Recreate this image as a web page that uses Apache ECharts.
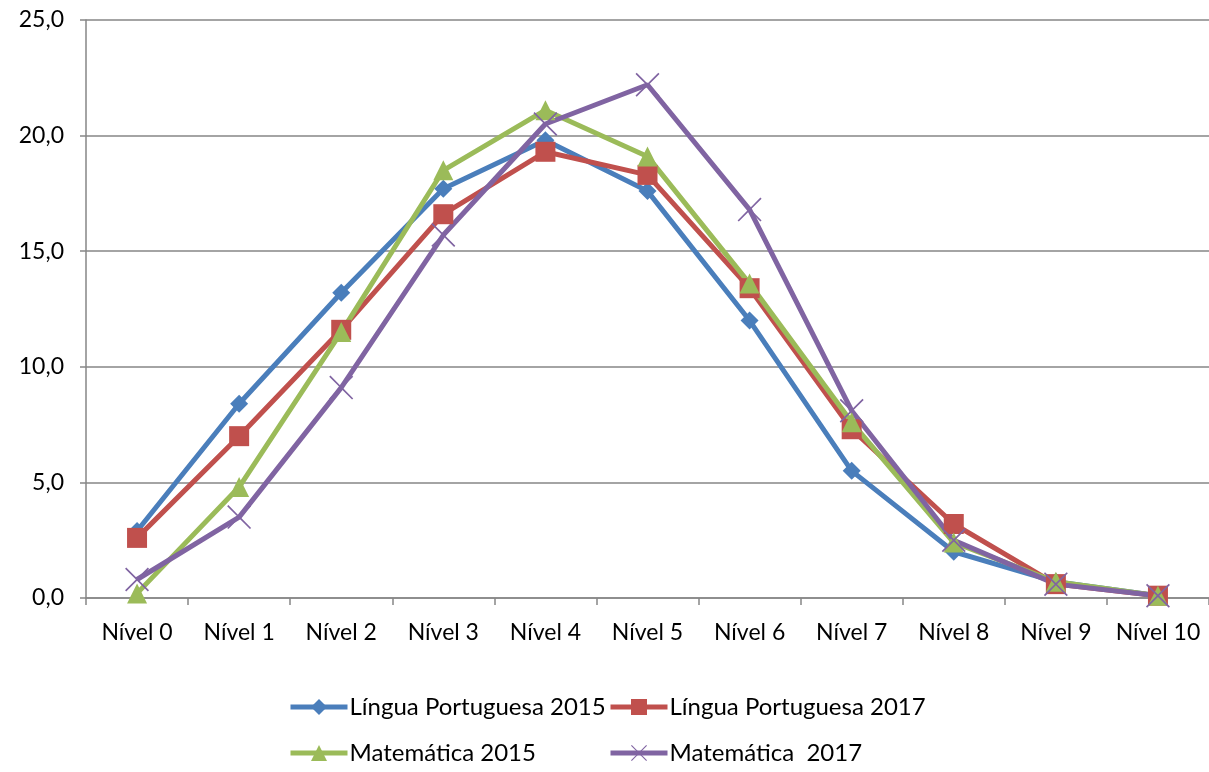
<!DOCTYPE html>
<html>
<head>
<meta charset="utf-8">
<script src="https://cdn.jsdelivr.net/npm/echarts@6/dist/echarts.min.js"></script>
<style>
  html, body { margin: 0; padding: 0; background: #fff; }
  #chart { width: 1209px; height: 772px; }
</style>
</head>
<body>
<div id="chart"></div>
<script>
// categorias do eixo x
var niveis = ["Nível 0", "Nível 1", "Nível 2", "Nível 3", "Nível 4", "Nível 5",
  "Nível 6", "Nível 7", "Nível 8", "Nível 9", "Nível 10"];

// percentuais por nível
var lp2015 = [2.9, 8.4, 13.2, 17.7, 19.8, 17.6, 12.0, 5.5, 2.0, 0.7, 0.1];
var lp2017 = [2.6, 7.0, 11.6, 16.6, 19.3, 18.3, 13.4, 7.3, 3.2, 0.6, 0.1];
var mat2015 = [0.2, 4.8, 11.5, 18.5, 21.1, 19.1, 13.6, 7.6, 2.4, 0.7, 0.1];
var mat2017 = [0.8, 3.5, 9.1, 15.7, 20.5, 22.2, 16.8, 8.1, 2.5, 0.6, 0.1];

var fonte = "Lato, 'Open Sans', sans-serif";
var cinza = "#868686";
var xis = "path://M0,1 L1,0 L10,9 L19,0 L20,1 L11,10 L20,19 L19,20 L10,11 L1,20 L0,19 L9,10 Z";

function serie(nome, dados, cor, simbolo, tam) {
  return {
    name: nome,
    type: "line",
    data: dados,
    symbol: simbolo,
    symbolSize: tam,
    showAllSymbol: true,
    lineStyle: { color: cor, width: 5 },
    itemStyle: { color: cor },
    emphasis: { disabled: true },
    animation: false
  };
}

// uma legenda por item, para alinhar em duas colunas
function legenda(nome, x, y) {
  return {
    data: [nome],
    left: x,
    top: y,
    itemWidth: 57,
    itemHeight: 20,
    lineStyle: { width: 5 },
    textStyle: { fontFamily: fonte, fontSize: 24, color: "#000", padding: [0, 0, 0, -3] }
  };
}

var chart = echarts.init(document.getElementById("chart"));
chart.setOption({
  animation: false,
  textStyle: { fontFamily: fonte, color: "#000" },
  grid: { left: 86, top: 20, right: -9, bottom: 174, containLabel: false },
  legend: [
    legenda("Língua Portuguesa 2015", 283, 690),
    legenda("Língua Portuguesa 2017", 603, 690),
    legenda("Matemática 2015", 283, 736),
    legenda("Matemática  2017", 603, 736)
  ],
  xAxis: {
    type: "category",
    data: niveis,
    boundaryGap: true,
    axisLine: { lineStyle: { color: cinza, width: 1.5 } },
    axisTick: { show: true, length: 7, lineStyle: { color: cinza, width: 1.5 } },
    axisLabel: { fontFamily: fonte, fontSize: 23, color: "#000", margin: 23, interval: 0 },
    splitLine: { show: false }
  },
  yAxis: {
    type: "value",
    min: 0,
    max: 25,
    interval: 5,
    axisLine: { show: true, lineStyle: { color: cinza, width: 1.5 } },
    axisTick: { show: true, length: 6, lineStyle: { color: cinza, width: 1.5 } },
    axisLabel: {
      fontFamily: fonte, fontSize: 23, color: "#000", margin: 22,
      formatter: function (v) { return v.toFixed(1).replace(".", ","); }
    },
    splitLine: { show: true, lineStyle: { color: cinza, width: 1.5 } }
  },
  series: [
    serie("Língua Portuguesa 2015", lp2015, "#4A7EBB", "diamond", 18),
    serie("Língua Portuguesa 2017", lp2017, "#C0504D", "rect", 20),
    serie("Matemática 2015", mat2015, "#9BBB59", "triangle", 20),
    serie("Matemática  2017", mat2017, "#8064A2", xis, 24)
  ]
});
</script>
</body>
</html>
